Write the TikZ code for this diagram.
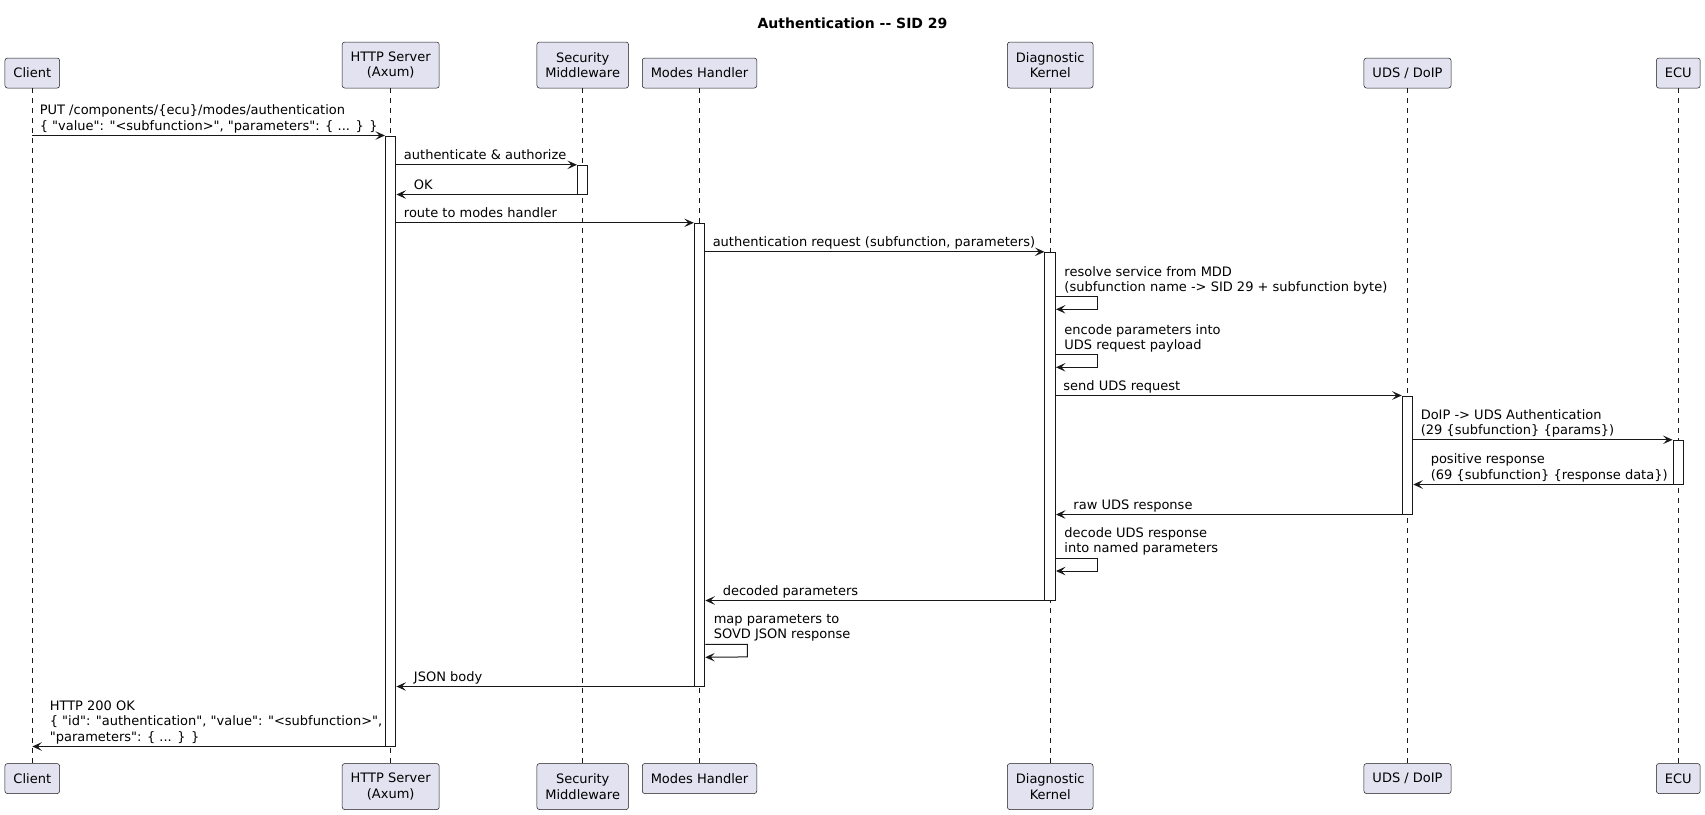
\documentclass[tikz,border=0pt]{standalone}
\usepackage{fontspec}
\newfontfamily\dvsans{DejaVu Sans}
\usetikzlibrary{arrows.meta}
\definecolor{linec}{HTML}{181818}
\definecolor{boxc}{HTML}{E2E2F0}
\begin{document}
\begin{tikzpicture}
[x=1pt,y=-1pt,
every node/.style={font=\dvsans\fontsize{13}{15.2}\selectfont, align=center},
part/.style={rectangle, rounded corners=2.5pt, draw=linec, fill=boxc, line width=.5pt, inner xsep=8.5pt, inner ysep=0pt},
one/.style={minimum height=30pt},
two/.style={minimum height=46pt},
life/.style={draw=linec, line width=.5pt, dash pattern=on 5pt off 5pt},
act/.style={rectangle, draw=linec, fill=white, line width=1pt, minimum width=10.5pt, inner sep=0pt},
msg/.style={draw=linec, line width=1pt, -{Stealth[length=9.5pt,width=8.5pt,inset=4pt]}},
lbl/.style={anchor=south west, align=left, inner sep=0pt, text depth=0pt, yshift=5pt}]
\useasboundingbox (0,0) rectangle (1705,814);
\node[font=\dvsans\fontsize{14}{16}\selectfont\bfseries] (title) at (852.5,23) {Authentication -{}- SID 29};
% participants, head
\node[part,one,anchor=south] (client) at (32.3,88.3) {Client};
\node[part,two,anchor=south] (http) at (390.7,88.3) {HTTP Server\\(Axum)};
\node[part,two,anchor=south] (sec) at (582.7,88.3) {Security\\Middleware};
\node[part,one,anchor=south] (modes) at (699.5,88.3) {Modes Handler};
\node[part,two,anchor=south] (diag) at (1050.2,88.3) {Diagnostic\\Kernel};
\node[part,one,anchor=south] (uds) at (1407.5,88.3) {UDS / DoIP};
\node[part,one,anchor=south] (ecu) at (1678.3,88.3) {ECU};
% participants, foot
\node[part,one,anchor=north] (clientB) at (32.3,763.3) {Client};
\node[part,two,anchor=north] (httpB) at (390.7,763.3) {HTTP Server\\(Axum)};
\node[part,two,anchor=north] (secB) at (582.7,763.3) {Security\\Middleware};
\node[part,one,anchor=north] (modesB) at (699.5,763.3) {Modes Handler};
\node[part,two,anchor=north] (diagB) at (1050.2,763.3) {Diagnostic\\Kernel};
\node[part,one,anchor=north] (udsB) at (1407.5,763.3) {UDS / DoIP};
\node[part,one,anchor=north] (ecuB) at (1678.3,763.3) {ECU};
\draw[life] (client) -- (clientB);
\draw[life] (http) -- (httpB);
\draw[life] (sec) -- (secB);
\draw[life] (modes) -- (modesB);
\draw[life] (diag) -- (diagB);
\draw[life] (uds) -- (udsB);
\draw[life] (ecu) -- (ecuB);
% activations
\node[act, minimum height=610] (hA) at (390.7,441) {};
\node[act, minimum height=28.7] (sA) at (582.7,179.65) {};
\node[act, minimum height=462.7] (mA) at (699.5,454.65) {};
\node[act, minimum height=347.7] (dA) at (1050.2,426.15) {};
\node[act, minimum height=118] (uA) at (1407.5,455) {};
\node[act, minimum height=43.7] (eA) at (1678.3,462.15) {};
% messages
\draw[msg] (client |- hA.north) -- (hA.north west) node[lbl, at start, xshift=7pt] {PUT /components/\{ecu\}/modes/authentication\\\{ "value": "<subfunction>", "parameters": \{ ... \} \}};
\draw[msg] (hA.east |- sA.north) -- (sA.north west) node[lbl, at start, xshift=7pt] {authenticate \& authorize};
\draw[msg] (sA.south west) -- (hA.east |- sA.south) node[lbl, at end, xshift=17pt] {OK};
\draw[msg] (hA.east |- mA.north) -- (mA.north west) node[lbl, at start, xshift=7pt] {route to modes handler};
\draw[msg] (mA.east |- dA.north) -- (dA.north west) node[lbl, at start, xshift=7pt] {authentication request (subfunction, parameters)};
\draw[msg] (dA.east |- 0,296.7) node[lbl, xshift=8pt] {resolve service from MDD\\(subfunction name -> SID 29 + subfunction byte)} -- ++(42,0) -- ++(0,12.6) -- (dA.east |- 0,309.3);
\draw[msg] (dA.east |- 0,354.7) node[lbl, xshift=8pt] {encode parameters into\\UDS request payload} -- ++(42,0) -- ++(0,12.6) -- (dA.east |- 0,367.3);
\draw[msg] (dA.east |- uA.north) -- (uA.north west) node[lbl, at start, xshift=7pt] {send UDS request};
\draw[msg] (uA.east |- eA.north) -- (eA.north west) node[lbl, at start, xshift=7pt] {DoIP -> UDS Authentication\\(29 \{subfunction\} \{params\})};
\draw[msg] (eA.south west) -- (uA.east |- eA.south) node[lbl, at end, xshift=17pt] {positive response\\(69 \{subfunction\} \{response data\})};
\draw[msg] (uA.south west) -- (dA.east |- uA.south) node[lbl, at end, xshift=17pt] {raw UDS response};
\draw[msg] (dA.east |- 0,558.4) node[lbl, xshift=8pt] {decode UDS response\\into named parameters} -- ++(42,0) -- ++(0,12.6) -- (dA.east |- 0,571);
\draw[msg] (dA.south west) -- (mA.east |- dA.south) node[lbl, at end, xshift=17pt] {decoded parameters};
\draw[msg] (mA.east |- 0,644.3) node[lbl, xshift=8pt] {map parameters to\\SOVD JSON response} -- ++(42,0) -- ++(0,12.6) -- (mA.east |- 0,657.3);
\draw[msg] (mA.south west) -- (hA.east |- mA.south) node[lbl, at end, xshift=17pt] {JSON body};
\draw[msg] (hA.south west) -- (client |- hA.south) node[lbl, at end, xshift=17pt] {HTTP 200 OK\\\{ "id": "authentication", "value": "<subfunction>",\\"parameters": \{ ... \} \}};
\end{tikzpicture}
\end{document}
